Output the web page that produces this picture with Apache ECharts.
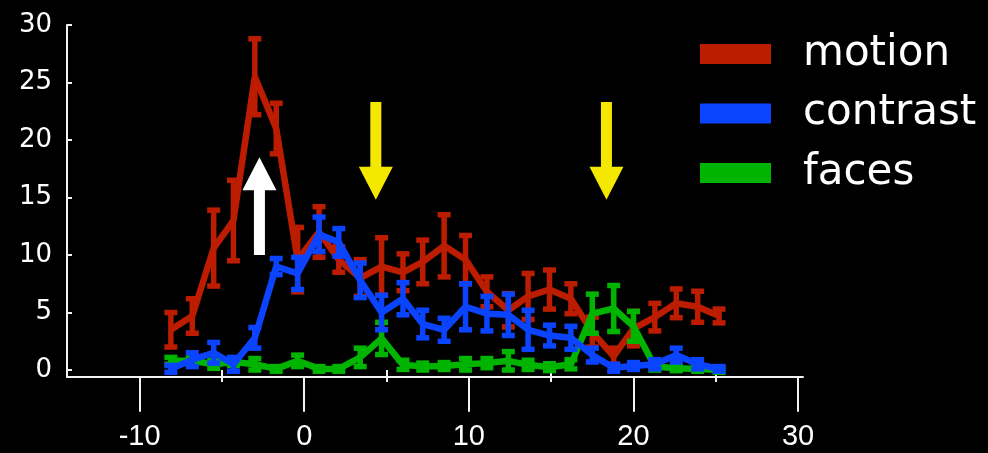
<!DOCTYPE html>
<html>
<head>
<meta charset="utf-8">
<script src="https://cdn.jsdelivr.net/npm/echarts@6/dist/echarts.min.js"></script>
<style>
html,body{margin:0;padding:0;background:#000;}
#chart{width:988px;height:453px;}
</style>
</head>
<body>
<div id="chart"></div>
<script>
// ---- data ----
const xValues = [-8.1, -6.8, -5.5, -4.3, -3.0, -1.7, -0.4, 0.9, 2.1, 3.4, 4.7, 6.0, 7.2, 8.5, 9.8, 11.1, 12.4, 13.6, 14.9, 16.2, 17.5, 18.8, 20.0, 21.3, 22.6, 23.9, 25.2];
const motionMean = [3.5, 4.7, 10.6, 13.0, 25.5, 21.0, 9.6, 12.0, 9.6, 8.0, 9.0, 8.5, 9.4, 10.8, 9.6, 6.8, 5.2, 6.4, 7.0, 6.2, 3.3, 1.2, 3.6, 4.6, 5.8, 5.5, 4.7];
const motionErr  = [1.5, 1.5, 3.3, 3.5, 3.3, 2.2, 2.8, 2.2, 1.1, 1.6, 2.5, 1.6, 1.9, 2.7, 2.1, 1.3, 1.45, 2.0, 1.7, 1.3, 1.3, 0.7, 1.5, 1.2, 1.25, 1.35, 0.6];
const contrastMean = [0.1, 0.9, 1.5, 0.5, 2.8, 9.0, 8.4, 11.8, 11.1, 7.8, 5.0, 6.2, 4.0, 3.5, 5.5, 4.9, 4.8, 3.5, 3.0, 2.8, 1.3, 0.2, 0.35, 0.5, 1.3, 0.5, 0.1];
const contrastErr  = [0.3, 0.6, 0.9, 0.6, 0.9, 0.7, 1.4, 1.5, 1.2, 1.5, 1.5, 1.4, 1.2, 1.0, 2.0, 1.5, 1.8, 1.7, 0.9, 1.0, 0.6, 0.3, 0.3, 0.4, 0.6, 0.4, 0.2];
const facesMean = [0.8, 0.8, 0.5, 0.7, 0.5, 0.1, 0.8, 0.1, 0.1, 1.1, 2.75, 0.45, 0.3, 0.35, 0.5, 0.6, 0.8, 0.45, 0.25, 0.5, 4.9, 5.35, 3.8, 0.3, 0.15, 0.1, 0.0];
const facesErr  = [0.3, 0.3, 0.35, 0.3, 0.5, 0.2, 0.5, 0.2, 0.2, 0.8, 1.4, 0.4, 0.3, 0.3, 0.5, 0.4, 0.8, 0.4, 0.3, 0.4, 1.7, 2.0, 1.3, 0.3, 0.2, 0.2, 0.2];
const seriesNames = ['motion', 'contrast', 'faces'];
const xTickLabels = [-10, 0, 10, 20, 30];
const xMinorTicks = [-5, 5, 15, 25];
const yTickLabels = [0, 5, 10, 15, 20, 25, 30];
// annotation arrows (data coordinates)
const arrowX    = [-2.72, 4.35, 18.36];
const arrowFrom = [10.0, 23.3, 23.3];
const arrowTo   = [18.5, 14.8, 14.8];

// ---- styles ----
const colors = { motion: '#bc1c00', contrast: '#0a44ff', faces: '#00b400' };
const arrowColors = ['#ffffff', '#f4e800', '#f4e800'];

const chart = echarts.init(document.getElementById('chart'), null, { renderer: 'canvas' });

function pairs(mean) { return xValues.map((x, i) => [x, mean[i]]); }
function errs(mean, err) { return xValues.map((x, i) => [x, mean[i] - err[i], mean[i] + err[i]]); }

function errRenderer(color) {
  return function (params, api) {
    const x = api.value(0), lo = api.value(1), hi = api.value(2);
    const t = api.coord([x, hi]);
    const b = api.coord([x, lo]);
    const hw = 6.5;
    const style = { stroke: color, lineWidth: 5.5, fill: null };
    return {
      type: 'group',
      children: [
        { type: 'line', shape: { x1: t[0], y1: t[1], x2: b[0], y2: b[1] }, style: style },
        { type: 'line', shape: { x1: t[0] - hw, y1: t[1], x2: t[0] + hw, y2: t[1] }, style: style },
        { type: 'line', shape: { x1: b[0] - hw, y1: b[1], x2: b[0] + hw, y2: b[1] }, style: style }
      ]
    };
  };
}

const meanData = { motion: motionMean, contrast: contrastMean, faces: facesMean };
const errData = { motion: motionErr, contrast: contrastErr, faces: facesErr };
const zOrder = { motion: 2, faces: 3, contrast: 4 };

const series = [];
seriesNames.forEach(function (n) {
  series.push({
    name: n, type: 'line', data: pairs(meanData[n]), symbol: 'none',
    lineStyle: { color: colors[n], width: 6.5 }, itemStyle: { color: colors[n] },
    z: zOrder[n], silent: true, animation: false
  });
  series.push({
    name: n + '_err', type: 'custom', data: errs(meanData[n], errData[n]),
    renderItem: errRenderer(colors[n]), z: zOrder[n], silent: true, animation: false,
    encode: { x: 0, y: [1, 2] }
  });
});

const axisColor = '#f2f2f2';

chart.setOption({
  backgroundColor: '#000',
  animation: false,
  grid: { left: 67, right: 185, top: 25, bottom: 76.3 },
  legend: {
    data: seriesNames,
    orient: 'vertical',
    left: 700, top: 32,
    padding: 0,
    icon: 'rect',
    itemWidth: 71, itemHeight: 20,
    itemGap: 15.5,
    textStyle: { color: '#ffffff', fontFamily: 'DejaVu Sans', fontSize: 42, lineHeight: 44, padding: [0, 0, 0, 27] },
    selectedMode: false
  },
  xAxis: [{
    type: 'value', min: -14.41, max: 30.3,
    axisLine: { show: true, onZero: false, lineStyle: { color: axisColor, width: 2 } },
    axisTick: { show: true, customValues: xTickLabels, length: 35, lineStyle: { color: axisColor, width: 2 } },
    axisLabel: { show: true, customValues: xTickLabels, margin: 46, color: '#ffffff', fontFamily: '"Liberation Sans", Arial, sans-serif', fontSize: 29 },
    splitLine: { show: false }
  }, {
    type: 'value', min: -14.41, max: 30.3, position: 'bottom', offset: 5,
    axisLine: { show: false },
    axisTick: { show: true, customValues: xMinorTicks, length: 12, lineStyle: { color: axisColor, width: 2 } },
    axisLabel: { show: false },
    splitLine: { show: false }
  }],
  yAxis: {
    type: 'value', min: -0.58, max: 30,
    axisLine: { show: true, onZero: false, lineStyle: { color: axisColor, width: 2 } },
    axisTick: { show: true, inside: true, customValues: yTickLabels, length: 5, lineStyle: { color: axisColor, width: 2 } },
    axisLabel: { show: true, customValues: yTickLabels, margin: 15, color: '#ffffff', fontFamily: 'DejaVu Sans', fontSize: 26 },
    splitLine: { show: false }
  },
  series: series
});

// arrows, positioned from data coordinates
const graphics = arrowX.map(function (x, i) {
  const from = chart.convertToPixel({ gridIndex: 0 }, [x, arrowFrom[i]]);
  const to = chart.convertToPixel({ gridIndex: 0 }, [x, arrowTo[i]]);
  const cx = from[0];
  const dir = to[1] < from[1] ? -1 : 1;
  const headLen = 33, hw = 17, sw = 5.5;
  const baseY = to[1] - dir * headLen;
  return {
    type: 'polygon', z: 10, silent: true,
    shape: { points: [[cx - sw, from[1]], [cx - sw, baseY], [cx - hw, baseY], [cx, to[1]], [cx + hw, baseY], [cx + sw, baseY], [cx + sw, from[1]]] },
    style: { fill: arrowColors[i] }
  };
});
chart.setOption({ graphic: graphics });
</script>
</body>
</html>
